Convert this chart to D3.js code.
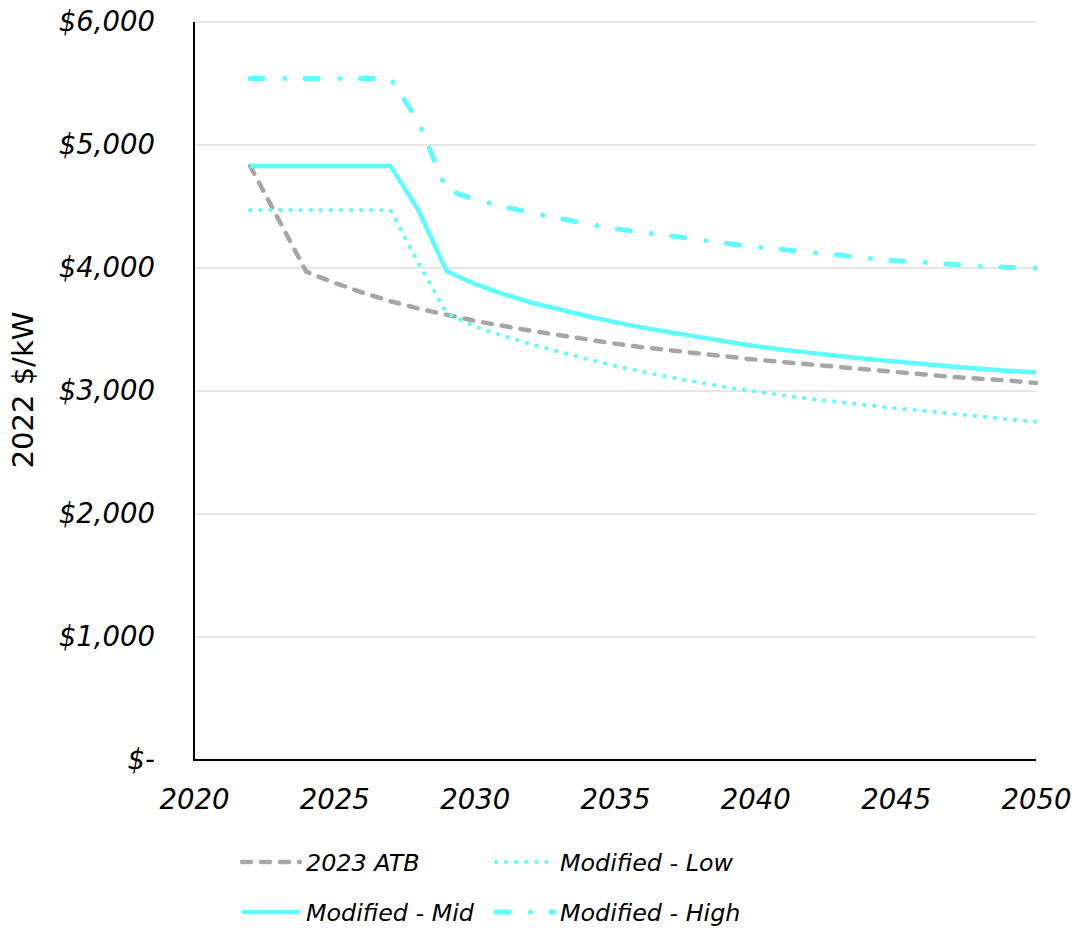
<!DOCTYPE html>
<html>
<head>
<meta charset="utf-8">
<script src="https://cdn.jsdelivr.net/npm/d3@7"></script>
<style>
  html, body { margin: 0; padding: 0; background: #ffffff; }
  svg { display: block; }
</style>
</head>
<body>
<svg id="chart" width="1078" height="930"></svg>
<script>
// Capital cost projections, 2022 $/kW
const years = d3.range(2022, 2051);

const atb2023 = [4830, 4400, 3970, 3880, 3800, 3730, 3670, 3620, 3570, 3530,
  3490, 3455, 3420, 3385, 3355, 3330, 3305, 3280, 3255, 3235,
  3215, 3195, 3175, 3155, 3135, 3115, 3100, 3085, 3065];

const modifiedLow = [4470, 4470, 4470, 4470, 4470, 4470, 4040, 3635, 3525, 3450,
  3380, 3320, 3260, 3205, 3155, 3110, 3070, 3030, 2995, 2965,
  2935, 2910, 2885, 2860, 2840, 2815, 2795, 2770, 2750];

const modifiedMid = [4830, 4830, 4830, 4830, 4830, 4830, 4470, 3975, 3870, 3790,
  3720, 3665, 3610, 3560, 3515, 3475, 3440, 3400, 3365, 3335,
  3310, 3285, 3260, 3240, 3220, 3200, 3180, 3165, 3150];

const modifiedHigh = [5540, 5540, 5540, 5540, 5540, 5540, 5190, 4635, 4560, 4500,
  4450, 4405, 4360, 4320, 4290, 4260, 4230, 4200, 4170, 4150,
  4125, 4105, 4080, 4060, 4045, 4030, 4015, 4005, 4000];

const seriesNames = ["2023 ATB", "Modified - Low", "Modified - Mid", "Modified - High"];
const xTicks = [2020, 2025, 2030, 2035, 2040, 2045, 2050];
const yTicks = [0, 1000, 2000, 3000, 4000, 5000, 6000];
const yTitle = "2022 $/kW";

const cyan = "#5ffcfc";
const grey = "#a6a6a6";

const styles = {
  "2023 ATB":        { color: grey, width: 4.5, dash: "9,10" },
  "Modified - Low":  { color: cyan, width: 4.2, dash: "0.1,10" },
  "Modified - Mid":  { color: cyan, width: 4.5, dash: null },
  "Modified - High": { color: cyan, width: 5,   dash: "13,21.5,0.1,20.5" }
};

const seriesValues = {
  "2023 ATB": atb2023,
  "Modified - Low": modifiedLow,
  "Modified - Mid": modifiedMid,
  "Modified - High": modifiedHigh
};

const svg = d3.select("#chart");
const plot = { left: 194, right: 1036, top: 22, bottom: 760 };

const x = d3.scaleLinear().domain([2020, 2050]).range([plot.left, plot.right]);
const y = d3.scaleLinear().domain([0, 6000]).range([plot.bottom, plot.top]);

const italicFont = "'DejaVu Sans', sans-serif";

// horizontal gridlines
svg.append("g")
  .selectAll("line")
  .data(yTicks.filter(d => d > 0))
  .join("line")
  .attr("x1", plot.left).attr("x2", plot.right)
  .attr("y1", d => y(d)).attr("y2", d => y(d))
  .attr("stroke", "#e6e6e6")
  .attr("stroke-width", 1.8);

// y axis labels
const yFmt = d => d === 0 ? "$-" : "$" + d3.format(",")(d);
const yAxis = svg.append("g")
  .attr("transform", `translate(${plot.left},0)`)
  .call(d3.axisLeft(y).tickValues(yTicks).tickFormat(yFmt).tickSize(0).tickPadding(39));
yAxis.select(".domain").remove();
yAxis.selectAll("text")
  .attr("font-family", italicFont)
  .attr("font-style", "italic")
  .attr("font-size", 27.5)
  .attr("fill", "#000");

// x axis labels
const xAxis = svg.append("g")
  .attr("transform", `translate(0,${plot.bottom})`)
  .call(d3.axisBottom(x).tickValues(xTicks).tickFormat(d3.format("d")).tickSize(0).tickPadding(29));
xAxis.select(".domain").remove();
xAxis.selectAll("text")
  .attr("font-family", italicFont)
  .attr("font-style", "italic")
  .attr("font-size", 27.5)
  .attr("fill", "#000");

// axis lines
svg.append("line")
  .attr("x1", plot.left).attr("x2", plot.left)
  .attr("y1", plot.top).attr("y2", plot.bottom + 1)
  .attr("stroke", "#000").attr("stroke-width", 2);
svg.append("line")
  .attr("x1", plot.left - 1).attr("x2", plot.right)
  .attr("y1", plot.bottom).attr("y2", plot.bottom)
  .attr("stroke", "#000").attr("stroke-width", 2);

// y axis title
svg.append("text")
  .attr("transform", `translate(33,390) rotate(-90)`)
  .attr("text-anchor", "middle")
  .attr("font-family", "'DejaVu Sans', sans-serif")
  .attr("font-size", 29)
  .attr("fill", "#000")
  .text(yTitle);

// series lines
const line = d3.line()
  .x((d, i) => x(years[i]))
  .y(d => y(d));

const drawOrder = ["Modified - High", "2023 ATB", "Modified - Low", "Modified - Mid"];
drawOrder.forEach(name => {
  const s = styles[name];
  svg.append("path")
    .datum(seriesValues[name])
    .attr("d", line)
    .attr("fill", "none")
    .attr("stroke", s.color)
    .attr("stroke-width", s.width)
    .attr("stroke-linecap", s.dash ? "round" : "butt")
    .attr("stroke-linejoin", "round")
    .attr("stroke-dasharray", s.dash);
});

// legend
const legendItems = [
  { name: "2023 ATB",        x: 242, y: 862 },
  { name: "Modified - Low",  x: 496, y: 862 },
  { name: "Modified - Mid",  x: 242, y: 912 },
  { name: "Modified - High", x: 496, y: 912 }
];
const legend = svg.append("g");
legendItems.forEach(item => {
  const s = styles[item.name];
  legend.append("line")
    .attr("x1", item.x).attr("x2", item.x + 58)
    .attr("y1", item.y).attr("y2", item.y)
    .attr("stroke", s.color)
    .attr("stroke-width", s.width)
    .attr("stroke-linecap", s.dash ? "round" : "butt")
    .attr("stroke-dasharray", s.dash);
  legend.append("text")
    .attr("x", item.x + 64)
    .attr("y", item.y)
    .attr("dy", "0.36em")
    .attr("font-family", italicFont)
    .attr("font-style", "italic")
    .attr("font-size", 23.8)
    .attr("fill", "#000")
    .text(item.name);
});
</script>
</body>
</html>
